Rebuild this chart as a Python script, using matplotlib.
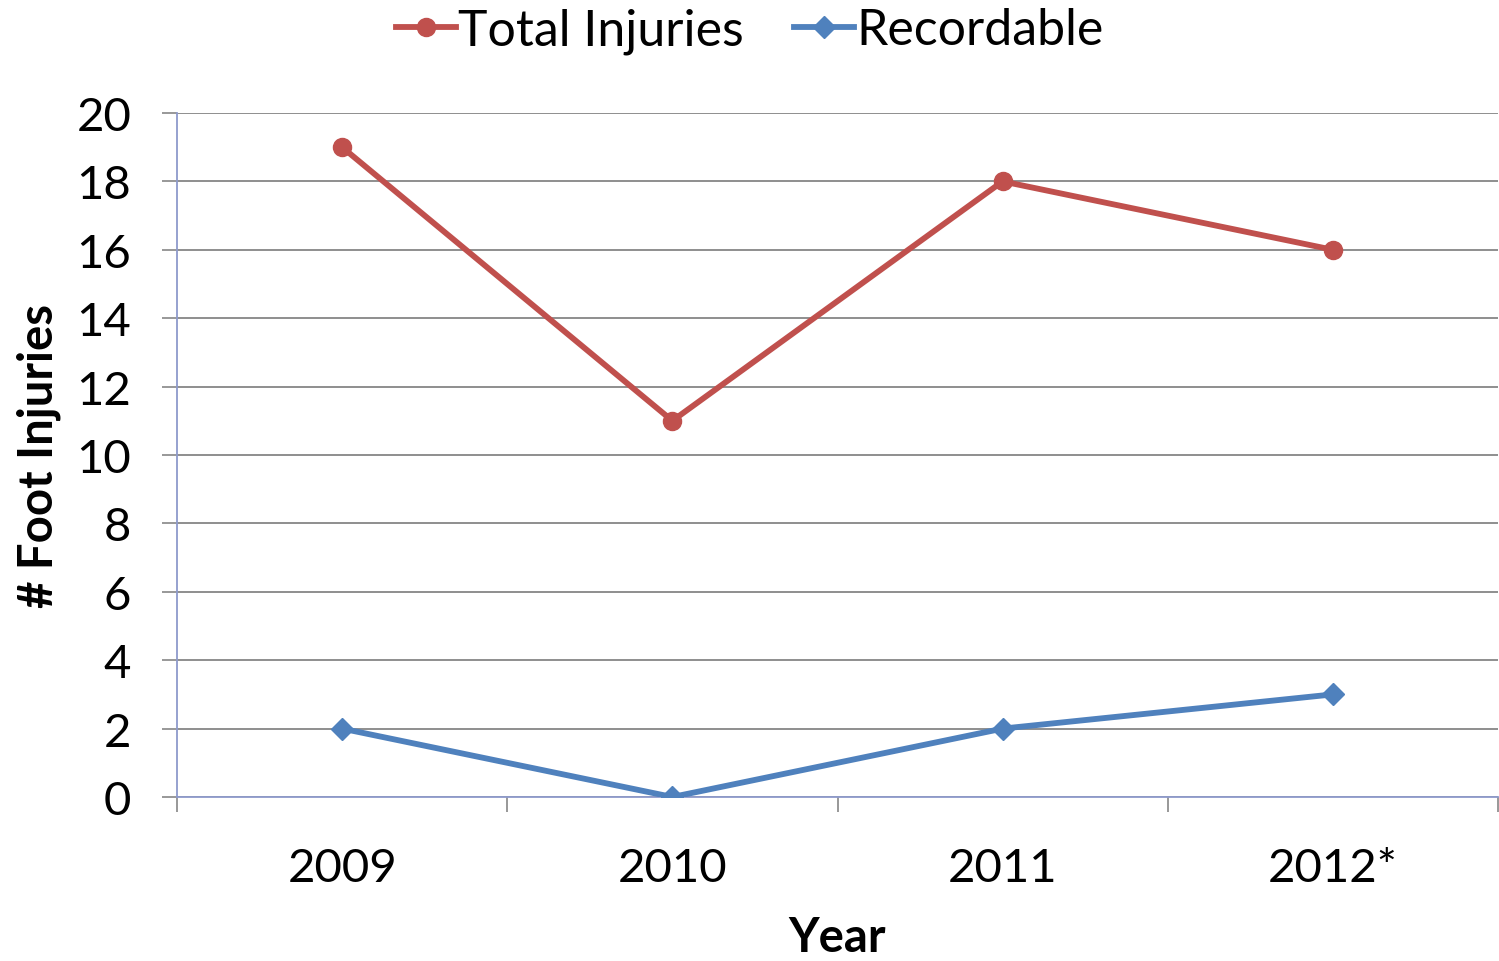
import matplotlib.pyplot as plt
import numpy as np

years = ["2009", "2010", "2011", "2012*"]
total_injuries = [19, 11, 18, 16]
recordable = [2, 0, 2, 3]

plt.rcParams['font.family'] = ['Lato', 'DejaVu Sans']

fig = plt.figure(figsize=(14.99, 9.62), dpi=100)
ax = fig.add_axes([177/1499, 1 - 798/962, 1321/1499, (798 - 114)/962])

x = np.arange(len(years)) + 0.5
ax.plot(x, total_injuries, color="#C0504D", lw=4.2, marker="o", ms=13,
        label="Total Injuries", zorder=3)
ax.plot(x, recordable, color="#4F81BD", lw=4.2, marker="D", ms=11,
        label="Recordable", zorder=3)

ax.set_xlim(0, len(years))
ax.set_ylim(0, 20)
ax.set_yticks(np.arange(0, 21, 2))
ax.set_xticks(np.arange(len(years) + 1))
ax.set_xticklabels([])
ax.set_xticks(x, minor=True)
ax.set_xticklabels(years, minor=True)
ax.tick_params(axis="x", which="minor", length=0, pad=36, labelsize=34)
ax.tick_params(axis="x", which="major", length=11, width=1.2, color="#868686")
ax.tick_params(axis="y", length=11, width=1.2, color="#868686", labelsize=34, pad=22)

ax.grid(axis="y", color="#868686", lw=1.3)
ax.set_axisbelow(True)
for s in ["top", "right"]:
    ax.spines[s].set_visible(False)
for s in ["left", "bottom"]:
    ax.spines[s].set_color("#8E9ACB")
    ax.spines[s].set_linewidth(1.3)

ax.set_xlabel("Year", fontsize=34, fontweight="bold", labelpad=19)
ax.set_ylabel("# Foot Injuries", fontsize=34, fontweight="bold", labelpad=11)

fig.legend(*ax.get_legend_handles_labels(), loc="upper center",
           bbox_to_anchor=(0.5, 0.994), ncol=2, frameon=False,
           fontsize=36, handlelength=1.2, handletextpad=0.05, columnspacing=1.0,
           borderaxespad=0.0, borderpad=0.05)

fig.savefig("out.png", dpi=100)
